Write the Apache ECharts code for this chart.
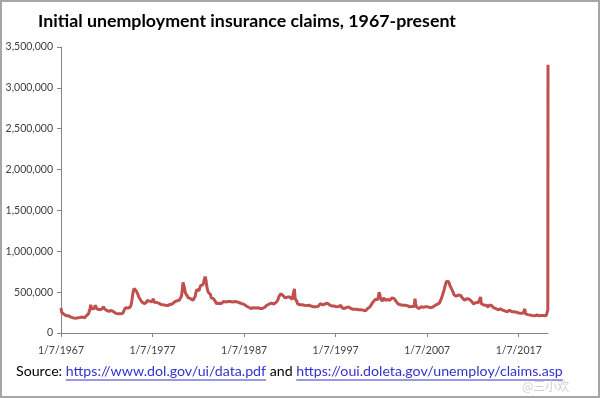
<!DOCTYPE html>
<html>
<head>
<meta charset="utf-8">
<title>Initial unemployment insurance claims</title>
<script src="https://cdn.jsdelivr.net/npm/echarts@6/dist/echarts.min.js"></script>
<style>
  html, body { margin: 0; padding: 0; background: #fff; }
  #chart { width: 600px; height: 398px; }
</style>
</head>
<body>
<div id="chart"></div>
<script>
// initial claims in thousands, one reading per month (7th)
var claims1960s = [
  305, 250, 240, 235, 230, 225, 220, 210, 215, 220, 210, 205,   // 1967
  200, 195, 205, 190, 185, 195, 190, 180, 185, 190, 185, 180,   // 1968
  185, 190, 180, 185, 195, 190, 200, 185, 195, 210, 205, 215    // 1969
];
var claims1970s = [
  235, 250, 290, 345, 300, 290, 285, 295, 310, 340, 320, 295,
  300, 295, 285, 290, 305, 290, 280, 300, 320, 295, 285, 280,
  275, 270, 280, 265, 270, 285, 275, 260, 255, 260, 250, 255,
  240, 235, 230, 235, 240, 225, 235, 240, 245, 240, 260, 285,
  300, 310, 290, 300, 305, 300, 295, 320, 350, 400, 470, 520,
  545, 555, 540, 510, 500, 470, 440, 420, 410, 395, 380, 375,
  365, 360, 370, 380, 375, 400, 410, 395, 390, 385, 395, 380,
  375, 420, 375, 370, 365, 375, 370, 380, 365, 360, 355, 350,
  350, 360, 345, 340, 330, 340, 335, 330, 335, 340, 345, 350,
  345, 350, 355, 370, 350, 380, 385, 400, 395, 380, 390, 400
];
var claims1980s = [
  410, 420, 450, 530, 620, 600, 550, 490, 470, 460, 440, 430,
  420, 425, 420, 410, 405, 400, 410, 420, 450, 500, 530, 540,
  530, 520, 550, 580, 600, 590, 590, 620, 660, 690, 650, 580,
  530, 500, 490, 480, 470, 430, 410, 420, 420, 400, 390, 385,
  360, 355, 360, 365, 360, 355, 360, 370, 380, 385, 390, 375,
  380, 395, 390, 385, 380, 375, 385, 390, 380, 380, 375, 370,
  385, 380, 375, 380, 370, 365, 370, 360, 355, 360, 355, 350,
  350, 345, 340, 330, 330, 325, 315, 310, 300, 300, 295, 305,
  310, 305, 300, 305, 300, 305, 310, 305, 300, 300, 305, 295,
  300, 310, 320, 315, 320, 330, 340, 335, 345, 355, 360, 370
];
var claims1990s = [
  365, 355, 350, 355, 360, 370, 375, 385, 400, 420, 450, 460,
  480, 500, 480, 460, 455, 445, 430, 440, 435, 440, 450, 445,
  440, 450, 420, 410, 415, 420, 540, 420, 410, 390, 360, 355,
  350, 345, 350, 355, 345, 350, 345, 340, 330, 340, 335, 330,
  345, 340, 355, 345, 330, 330, 335, 320, 330, 325, 320, 315,
  320, 325, 330, 345, 360, 375, 360, 345, 350, 345, 355, 360,
  360, 365, 355, 350, 345, 350, 345, 330, 330, 335, 330, 345,
  330, 320, 315, 320, 325, 320, 315, 340, 310, 315, 305, 300,
  305, 300, 310, 310, 300, 320, 330, 305, 300, 290, 285, 290,
  300, 295, 295, 290, 285, 290, 285, 290, 290, 285, 280, 275
];
var claims2000s = [
  280, 280, 275, 270, 280, 285, 300, 305, 310, 320, 335, 350,
  365, 380, 390, 400, 410, 410, 400, 410, 440, 500, 470, 420,
  410, 390, 400, 430, 415, 400, 390, 395, 410, 400, 390, 400,
  400, 410, 430, 440, 430, 420, 400, 390, 380, 370, 355, 355,
  350, 345, 340, 345, 340, 345, 335, 340, 330, 340, 335, 330,
  325, 320, 330, 330, 325, 320, 315, 325, 420, 360, 320, 325,
  310, 300, 305, 315, 320, 310, 315, 315, 315, 315, 320, 320,
  310, 320, 320, 325, 310, 310, 305, 315, 320, 330, 335, 340,
  330, 350, 360, 370, 365, 380, 385, 430, 460, 480, 520, 560,
  590, 630, 650, 640, 630, 610, 580, 570, 540, 530, 500, 470
];
var claims2010s = [
  460, 470, 450, 445, 460, 465, 450, 485, 460, 450, 430, 420,
  420, 400, 390, 410, 420, 420, 410, 415, 410, 400, 390, 370,
  370, 355, 360, 370, 375, 380, 370, 370, 375, 365, 440, 360,
  350, 345, 345, 340, 345, 345, 340, 330, 315, 340, 330, 350,
  340, 330, 320, 310, 310, 310, 300, 300, 290, 285, 290, 295,
  295, 300, 285, 280, 275, 275, 270, 270, 265, 260, 265, 275,
  280, 270, 265, 260, 265, 265, 260, 260, 255, 255, 250, 260,
  245, 240, 245, 240, 240, 245, 245, 250, 295, 235, 240, 235,
  225, 225, 220, 220, 220, 225, 215, 210, 205, 210, 220, 220,
  220, 220, 215, 210, 215, 220, 215, 215, 210, 215, 220, 220
];
var claims2020 = [210, 215];
// the last weeks, where the jump happens
var finalWeekDates = [[2020, 3, 7], [2020, 3, 14], [2020, 3, 21]];
var finalWeekClaims = [215, 282, 3283];
var tickYears = [1967, 1977, 1987, 1997, 2007, 2017];

var day = function (y, m, d) { return Date.UTC(y, m - 1, d); };

var monthly = [].concat(claims1960s, claims1970s, claims1980s, claims1990s, claims2000s, claims2010s, claims2020);
var seriesData = [];
monthly.forEach(function (v, i) {
  seriesData.push([day(1967 + Math.floor(i / 12), i % 12 + 1, 7), v * 1000]);
});
finalWeekDates.forEach(function (d, i) {
  seriesData.push([day(d[0], d[1], d[2]), finalWeekClaims[i] * 1000]);
});

var tickValues = tickYears.map(function (y) { return day(y, 1, 7); });

// measure the source line so the links can be underlined
var srcFont = '14.2px Lato';
var ctx = document.createElement('canvas').getContext('2d');
ctx.font = srcFont;
var srcParts = ['Source: ', 'https://www.dol.gov/ui/data.pdf', ' and ', 'https://oui.doleta.gov/unemploy/claims.asp'];
var srcX = 16, srcY = 371, underY = 380;
var x0 = srcX + ctx.measureText(srcParts[0]).width;
var x1 = x0 + ctx.measureText(srcParts[1]).width;
var x2 = x1 + ctx.measureText(srcParts[2]).width;
var x3 = x2 + ctx.measureText(srcParts[3]).width;

var chart = echarts.init(document.getElementById('chart'), null, { renderer: 'canvas' });

chart.setOption({
  animation: false,
  backgroundColor: '#fff',
  textStyle: { fontFamily: 'Lato' },
  grid: { left: 61, right: 52, top: 47, bottom: 65 },
  xAxis: {
    type: 'value',
    min: day(1967, 1, 7),
    max: day(2020, 3, 21),
    splitLine: { show: false },
    axisLine: { onZero: false, lineStyle: { color: '#868686', width: 1 } },
    axisTick: { show: true, length: 4, customValues: tickValues, lineStyle: { color: '#868686' } },
    axisLabel: {
      customValues: tickValues,
      margin: 12,
      color: '#404040',
      fontSize: 10.5,
      fontFamily: 'Lato',
      formatter: function (v) {
        var d = new Date(v);
        return (d.getUTCMonth() + 1) + '/' + d.getUTCDate() + '/' + d.getUTCFullYear();
      }
    }
  },
  yAxis: {
    type: 'value',
    min: 0,
    max: 3500000,
    interval: 500000,
    splitLine: { show: false },
    axisLine: { show: true, onZero: false, lineStyle: { color: '#868686', width: 1 } },
    axisTick: { show: true, length: 4, lineStyle: { color: '#868686' } },
    axisLabel: {
      margin: 8,
      color: '#404040',
      fontSize: 10.5,
      fontFamily: 'Lato',
      formatter: function (v) { return v.toLocaleString('en-US'); }
    }
  },
  series: [{
    type: 'line',
    data: seriesData,
    showSymbol: false,
    symbol: 'none',
    lineStyle: { color: '#C0504D', width: 3 }
  }],
  graphic: [
    {
      type: 'rect', silent: true,
      shape: { x: 1, y: 1, width: 598, height: 396 },
      style: { fill: 'none', stroke: '#a6a6a6', lineWidth: 2 }
    },
    {
      type: 'text', left: 38, top: 12,
      style: {
        text: 'Initial unemployment insurance claims, 1967-present',
        font: 'bold 17.8px Lato', fill: '#000'
      }
    },
    {
      type: 'text', x: srcX, y: srcY,
      style: {
        text: '{s|' + srcParts[0] + '}{l|' + srcParts[1] + '}{s|' + srcParts[2] + '}{l|' + srcParts[3] + '}',
        verticalAlign: 'middle',
        rich: {
          s: { font: srcFont, fill: '#000' },
          l: { font: srcFont, fill: '#3333CC' }
        }
      }
    },
    { type: 'line', shape: { x1: x0, y1: underY, x2: x1, y2: underY }, style: { stroke: '#3333CC', lineWidth: 1 } },
    { type: 'line', shape: { x1: x2, y1: underY, x2: x3, y2: underY }, style: { stroke: '#3333CC', lineWidth: 1 } },
    {
      type: 'text', x: 522, y: 386,
      style: {
        text: '@三小欢',
        verticalAlign: 'middle',
        font: '12px "Noto Sans CJK SC"', fill: '#d0d0d0'
      }
    }
  ]
});
</script>
</body>
</html>
